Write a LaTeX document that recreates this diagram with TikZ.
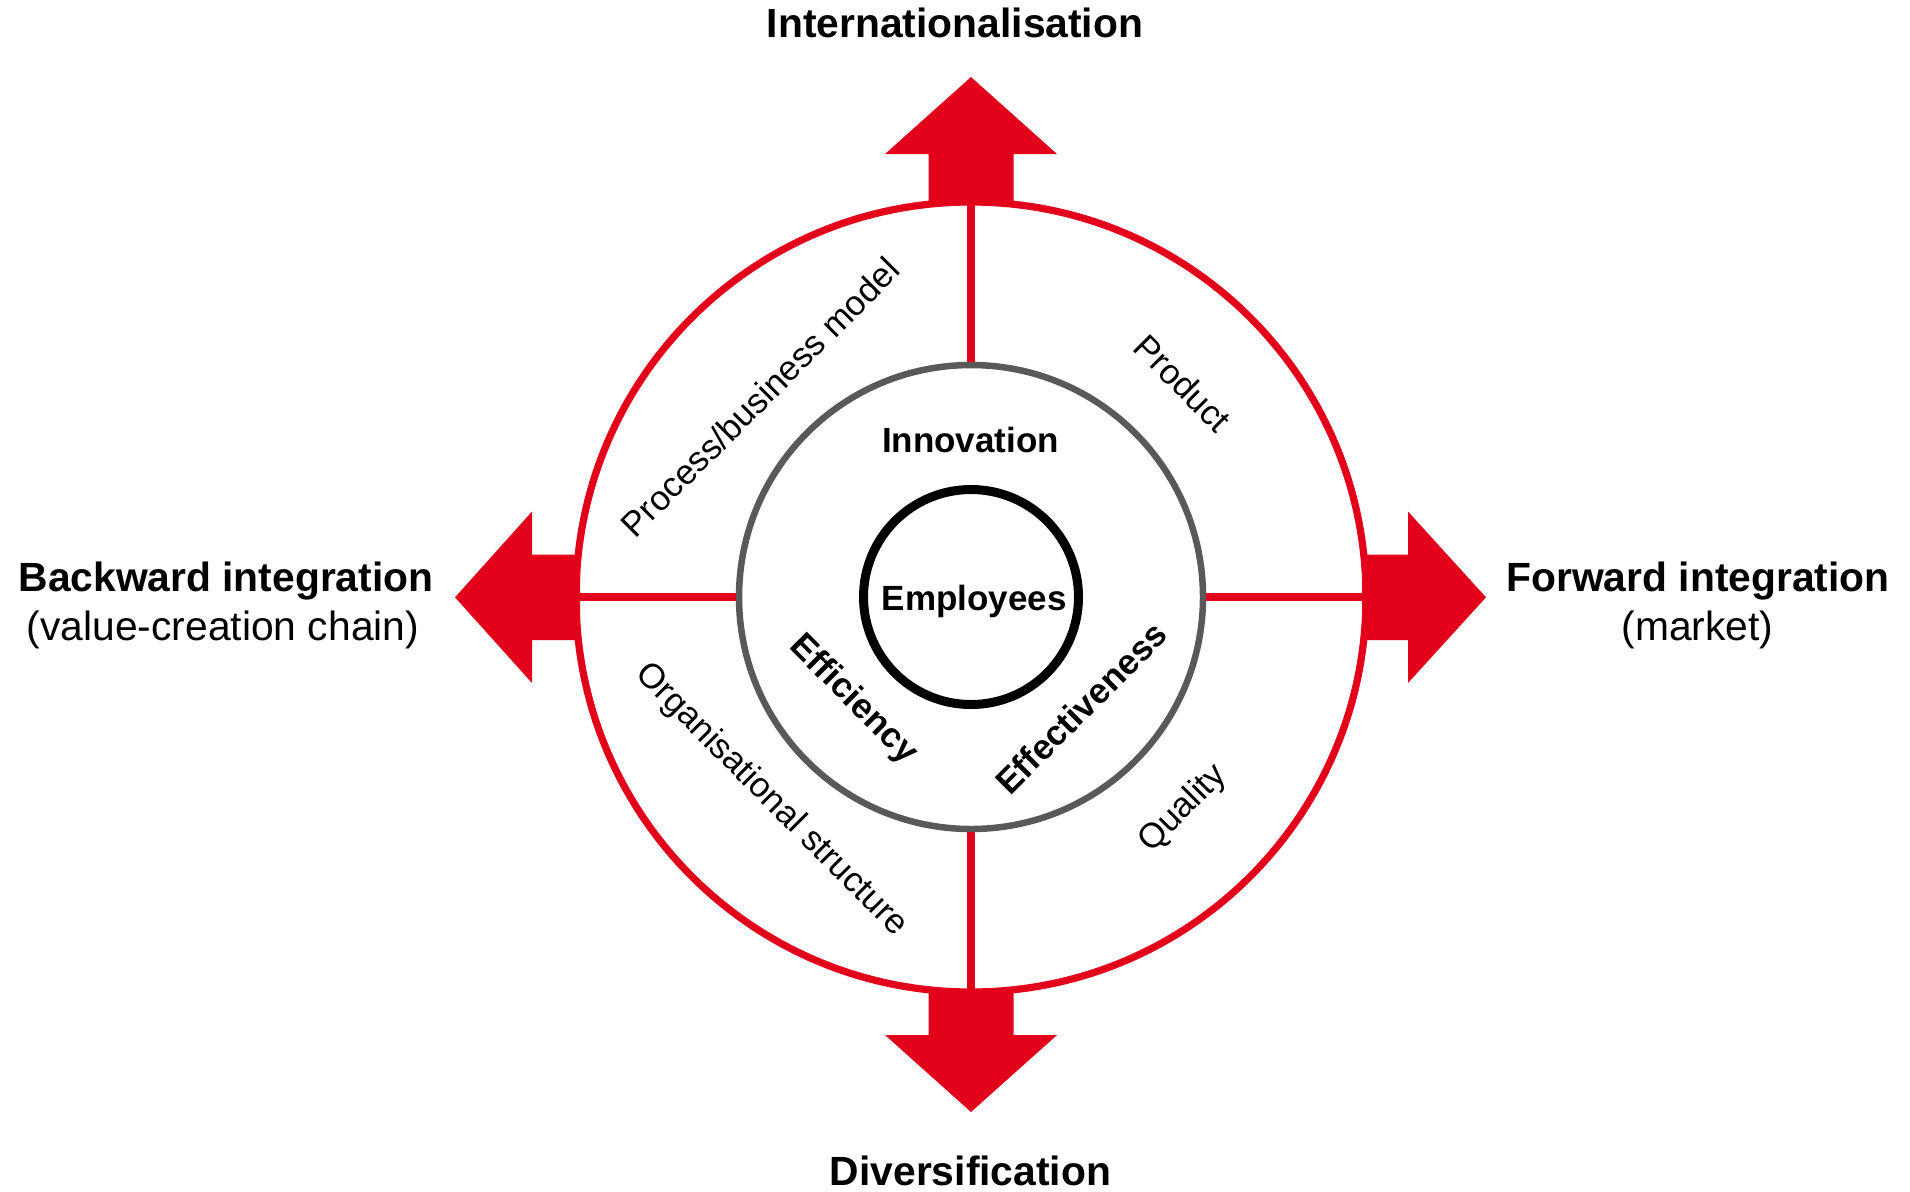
\documentclass[tikz,border=0pt]{standalone}
\usepackage{fontspec}
\setmainfont{Liberation Sans}
\definecolor{brandred}{HTML}{E2001A}
\definecolor{ringgray}{HTML}{595959}
\begin{document}
\begin{tikzpicture}[x=0.5pt,y=-0.5pt,
  ring/.style={circle, draw, inner sep=0pt, outer sep=0pt},
  spoke/.style={draw=brandred, line width=3.6pt, shorten <=1.6pt},
  bigarrow/.style={fill=brandred, draw=none},
  headline/.style={font=\fontsize{20.4}{24}\selectfont\bfseries, anchor=base, inner sep=0pt},
  subline/.style={font=\fontsize{20.4}{24}\selectfont, anchor=base, inner sep=0pt},
  core label/.style={font=\fontsize{17.5}{20}\selectfont\bfseries, inner sep=0pt},
  field label/.style={font=\fontsize{17.4}{20}\selectfont, inner sep=0pt}]
\useasboundingbox (0,0) rectangle (1910,1191);

% the four block arrows pointing outwards
\fill[bigarrow] (928.5,205) -- (928.5,154) -- (885,154) -- (971,77) -- (1057,154) -- (1013.5,154) -- (1013.5,205) -- cycle;
\fill[bigarrow] (928.5,989) -- (928.5,1035) -- (885,1035) -- (971,1112) -- (1057,1035) -- (1013.5,1035) -- (1013.5,989) -- cycle;
\fill[bigarrow] (580,554.5) -- (532,554.5) -- (532,511.5) -- (455,597.3) -- (532,683) -- (532,640) -- (580,640) -- cycle;
\fill[bigarrow] (1362,554.5) -- (1408,554.5) -- (1408,511.5) -- (1486,597.3) -- (1408,683) -- (1408,640) -- (1362,640) -- cycle;

% concentric rings
\node[ring, draw=brandred, line width=3.6pt, minimum size=395pt] (outer) at (971,597) {};
\node[ring, draw=ringgray, line width=3.25pt, minimum size=232pt] (middle) at (971,597) {};
\node[ring, draw=black, line width=4.5pt, minimum size=107.5pt] (hub) at (971,597) {};

% spokes dividing the outer ring into quadrants
\draw[spoke] (middle.north) -- (outer.north);
\draw[spoke] (middle.south) -- (outer.south);
\draw[spoke] (middle.west) -- (outer.west);
\draw[spoke] (middle.east) -- (outer.east);

% directions of growth
\node[headline] (intl) at (955,37.7) {Internationalisation};
\node[headline] (divers) at (970.5,1185) {Diversification};
\node[headline] (backward) at (226,591.7) {Backward integration};
\node[subline] (backwardsub) at (223,640) {(value-creation chain)};
\node[headline] (forward) at (1698,591.7) {Forward integration};
\node[subline] (forwardsub) at (1697.5,640) {(market)};

% core
\node[core label, anchor=base] (innovation) at (970.5,452.7) {Innovation};
\node[core label, anchor=base] (employees) at (974.3,610) {Employees};
\node[core label, rotate=-45] (efficiency) at (853,700) {Efficiency};
\node[core label, rotate=45] (effectiveness) at (1081,708) {Effectiveness};

% fields of the outer ring
\node[field label, rotate=45] (process) at (760,397) {Process/business model};
\node[field label, rotate=-45] (orgstruct) at (771,800) {Organisational structure};
\node[field label, rotate=-45] (product) at (1183,383) {Product};
\node[field label, rotate=45] (quality) at (1183,809) {Quality};
\end{tikzpicture}
\end{document}
